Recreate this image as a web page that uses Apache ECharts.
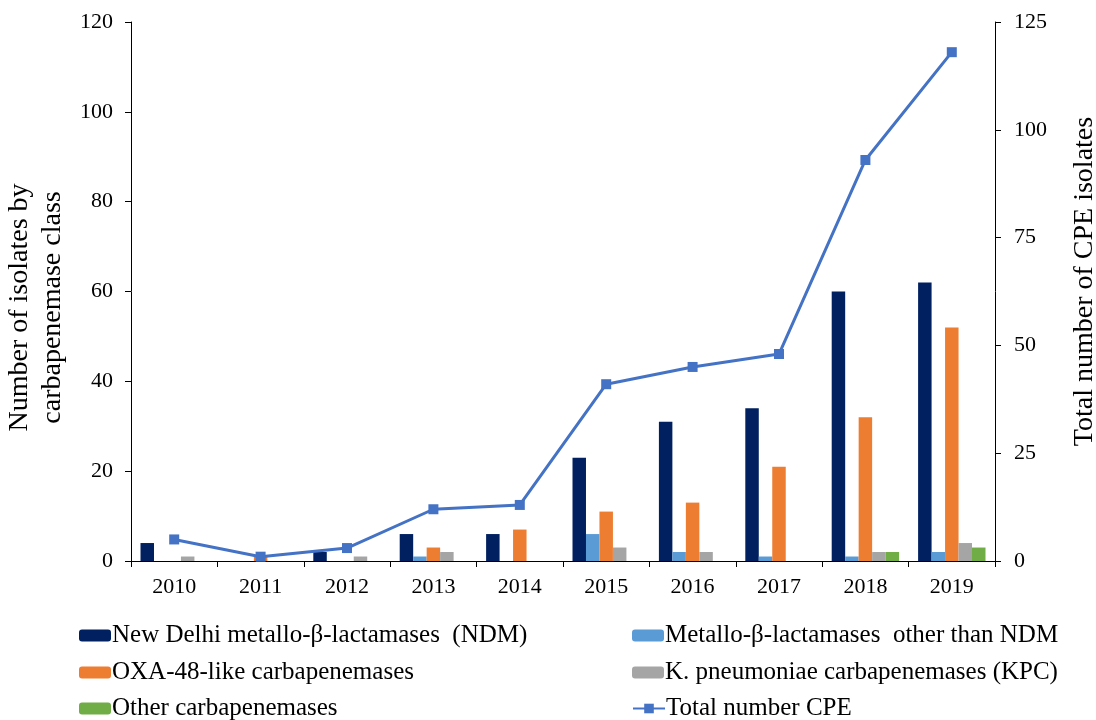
<!DOCTYPE html>
<html>
<head>
<meta charset="utf-8">
<script src="https://cdn.jsdelivr.net/npm/echarts@6/dist/echarts.min.js"></script>
<style>
  html, body { margin: 0; padding: 0; background: #fff; }
  #chart { width: 1096px; height: 720px; }
</style>
</head>
<body>
<div id="chart"></div>
<script>
var years = ['2010', '2011', '2012', '2013', '2014', '2015', '2016', '2017', '2018', '2019'];
var ndm = [4, 0, 2, 6, 6, 23, 31, 34, 60, 62];
var mblOther = [0, 0, 0, 1, 0, 6, 2, 1, 1, 2];
var oxa48 = [0, 1, 0, 3, 7, 11, 13, 21, 32, 52];
var kpc = [1, 0, 1, 2, 0, 3, 2, 0, 2, 4];
var otherCarb = [0, 0, 0, 0, 0, 0, 0, 0, 2, 3];
var totalCpe = [5, 1, 3, 12, 13, 41, 45, 48, 93, 118];

var names = [
    'New Delhi metallo-β-lactamases  (NDM)',
    'Metallo-β-lactamases  other than NDM',
    'OXA-48-like carbapenemases',
    'K. pneumoniae carbapenemases (KPC)',
    'Other carbapenemases',
    'Total number CPE'
];

var font = 'Liberation Serif';
var chart = echarts.init(document.getElementById('chart'));

function barSeries(name, data, color) {
    return {
        name: name,
        type: 'bar',
        data: data,
        barGap: '0%',
        barCategoryGap: '22%',
        itemStyle: { color: color }
    };
}

// one legend per entry so the two columns sit where the original has them
function legendItem(name, left, top) {
    return {
        left: left,
        top: top,
        padding: 0,
        itemWidth: 32,
        itemHeight: 12,
        textStyle: { fontFamily: font, fontSize: 25, color: '#000', padding: [0, 0, 0, -4] },
        data: [name]
    };
}

chart.setOption({
    animation: false,
    textStyle: { fontFamily: font, color: '#000' },
    grid: { left: 131, right: 101, top: 22, bottom: 159, containLabel: false, outerBoundsMode: 'none' },
    legend: [
        legendItem(names[0], 79, 623),
        legendItem(names[2], 79, 660),
        legendItem(names[4], 79, 696),
        legendItem(names[1], 632, 623),
        legendItem(names[3], 632, 660),
        legendItem(names[5], 632, 696)
    ],
    xAxis: {
        type: 'category',
        data: years,
        axisLine: { lineStyle: { color: '#000', width: 1 } },
        axisTick: { show: true, length: 6, lineStyle: { color: '#000' } },
        axisLabel: { fontFamily: font, fontSize: 22, color: '#000', margin: 15 }
    },
    yAxis: [
        {
            type: 'value',
            min: 0,
            max: 120,
            interval: 20,
            name: 'Number of isolates by\ncarbapenemase class',
            nameLocation: 'middle',
            nameGap: 54,
            nameTextStyle: { fontFamily: font, fontSize: 28, color: '#000', lineHeight: 33, padding: [0, 32, 0, 0] },
            axisLine: { show: true, lineStyle: { color: '#000' } },
            axisTick: { show: true, length: 6, lineStyle: { color: '#000' } },
            axisLabel: { fontFamily: font, fontSize: 22, color: '#000', margin: 18 },
            splitLine: { show: false }
        },
        {
            type: 'value',
            min: 0,
            max: 125,
            interval: 25,
            name: 'Total number of CPE isolates',
            nameLocation: 'middle',
            nameGap: 76,
            nameTextStyle: { fontFamily: font, fontSize: 28, color: '#000', padding: [0, 0, 0, 20] },
            axisLine: { show: true, lineStyle: { color: '#000' } },
            axisTick: { show: true, length: 6, lineStyle: { color: '#000' } },
            axisLabel: { fontFamily: font, fontSize: 22, color: '#000', margin: 19 },
            splitLine: { show: false }
        }
    ],
    series: [
        barSeries(names[0], ndm, '#002060'),
        barSeries(names[1], mblOther, '#5B9BD5'),
        barSeries(names[2], oxa48, '#ED7D31'),
        barSeries(names[3], kpc, '#A5A5A5'),
        barSeries(names[4], otherCarb, '#70AD47'),
        {
            name: names[5],
            type: 'line',
            yAxisIndex: 1,
            data: totalCpe,
            symbol: 'rect',
            symbolSize: 10,
            lineStyle: { color: '#4472C4', width: 3 },
            itemStyle: { color: '#4472C4' }
        }
    ]
});
</script>
</body>
</html>
